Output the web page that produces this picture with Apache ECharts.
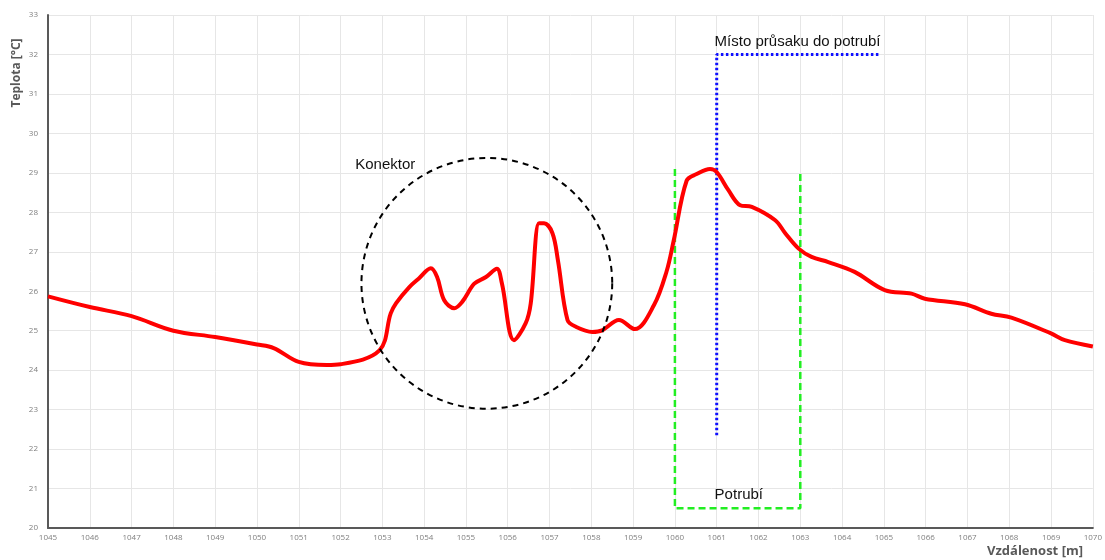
<!DOCTYPE html>
<html>
<head>
<meta charset="utf-8">
<script src="https://cdn.jsdelivr.net/npm/echarts@6/dist/echarts.min.js"></script>
<style>
html,body{margin:0;padding:0;background:#fff;}
#main{width:1105px;height:560px;}
</style>
</head>
<body>
<div id="main"></div>
<script>
// Data
var distances = [1045, 1046, 1047, 1048, 1049, 1050, 1050.4, 1051, 1051.67, 1052, 1052.93, 1053.2, 1053.33, 1053.64, 1053.88, 1054.16, 1054.31, 1054.48, 1054.72, 1054.91, 1055.2, 1055.48, 1055.74, 1055.86, 1056.15, 1056.43, 1056.55, 1056.75, 1056.87, 1057.07, 1057.2, 1057.43, 1057.63, 1058.02, 1058.26, 1058.66, 1059.04, 1059.5, 1059.8, 1059.97, 1060.28, 1060.52, 1060.84, 1061, 1061.28, 1061.56, 1061.84, 1062.4, 1062.64, 1062.96, 1063.27, 1063.67, 1064.3, 1065.02, 1065.66, 1065.98, 1066.94, 1067.57, 1068.05, 1069, 1069.33, 1070];
var temperatures = [25.87, 25.6, 25.37, 25.0, 24.84, 24.65, 24.56, 24.21, 24.13, 24.15, 24.5, 25.44, 25.7, 26.1, 26.33, 26.58, 26.36, 25.77, 25.57, 25.73, 26.19, 26.36, 26.57, 26.2, 24.76, 25.19, 25.69, 27.72, 27.72, 27.47, 26.79, 25.27, 25.1, 24.97, 25.01, 25.27, 25.04, 25.65, 26.5, 27.28, 28.8, 28.97, 29.1, 29.02, 28.56, 28.18, 28.14, 27.8, 27.47, 27.08, 26.87, 26.74, 26.49, 26.03, 25.94, 25.81, 25.67, 25.43, 25.33, 24.93, 24.76, 24.6];

// Annotation geometry in data units
var leakLine = [[1061, 22.35], [1061, 32], [1064.9, 32]];
var pipeBox = [[1060, 29.1], [1060, 20.5], [1063, 20.5], [1063, 29.05]];
var connectorCenter = [1055.5, 26.2];
var connectorRadiusM = 3.0;
var labelConnector = {text: 'Konektor', at: [1052.35, 29.17]};
var labelLeak = {text: 'Místo průsaku do potrubí', at: [1060.95, 32.28]};
var labelPipe = {text: 'Potrubí', at: [1060.95, 20.8]};

var xMin = 1045, xMax = 1070, yMin = 20, yMax = 33;

var chart = echarts.init(document.getElementById('main'), null, {renderer: 'canvas'});

var series = [
  {
    type: 'line',
    data: distances.map(function (d, i) { return [d, temperatures[i]]; }),
    smooth: 0.35,
    showSymbol: false,
    lineStyle: {color: '#ff0000', width: 4},
    z: 5
  },
  {
    type: 'line',
    data: leakLine,
    showSymbol: false,
    lineStyle: {color: '#1010ff', width: 3, type: [2.5, 2.5]},
    z: 4
  },
  {
    type: 'line',
    data: pipeBox,
    showSymbol: false,
    lineStyle: {color: '#22ee22', width: 2.5, type: [7, 4]},
    z: 4
  }
];

chart.setOption({
  animation: false,
  grid: {left: 48, right: 9, top: 15, bottom: 32},
  xAxis: {
    type: 'value', min: xMin, max: xMax, interval: 1,
    axisLine: {show: true, lineStyle: {color: '#595959', width: 2}},
    axisTick: {show: false},
    axisLabel: {color: '#7f7f7f', fontSize: 8, margin: 6, fontFamily: 'Open Sans',
      formatter: function (v) { return String(v); }},
    splitLine: {show: true, lineStyle: {color: '#e6e6e6', width: 1}}
  },
  yAxis: {
    type: 'value', min: yMin, max: yMax, interval: 1,
    axisLine: {show: true, lineStyle: {color: '#595959', width: 2}},
    axisTick: {show: false},
    axisLabel: {color: '#7f7f7f', fontSize: 8, margin: 10, fontFamily: 'Open Sans'},
    splitLine: {show: true, lineStyle: {color: '#e6e6e6', width: 1}}
  },
  series: series
});

function px(p) { return chart.convertToPixel({gridIndex: 0}, p); }
var c = px(connectorCenter);
var r = px([connectorCenter[0] + connectorRadiusM, connectorCenter[1]])[0] - c[0];
function textEl(lbl) {
  var p = px(lbl.at);
  return {type: 'text', left: p[0], top: p[1] - 9,
    style: {text: lbl.text, fill: '#111', font: '15px "Liberation Sans", Arial, sans-serif'}, z: 10};
}
chart.setOption({
  graphic: [
    {type: 'circle', shape: {cx: c[0], cy: c[1], r: r},
     style: {fill: 'none', stroke: '#000', lineWidth: 2, lineDash: [6, 5]}, z: 6},
    textEl(labelConnector),
    textEl(labelLeak),
    textEl(labelPipe),
    {type: 'text', rotation: Math.PI / 2, x: 17, y: 73,
     style: {text: 'Teplota [°C]', fill: '#595959', font: 'bold 12px "Open Sans", sans-serif', textAlign: 'center', textVerticalAlign: 'middle'}},
    {type: 'text', x: 1083, y: 551,
     style: {text: 'Vzdálenost [m]', fill: '#595959', font: 'bold 13px "Open Sans", sans-serif', textAlign: 'right', textVerticalAlign: 'middle'}}
  ]
});
</script>
</body>
</html>
